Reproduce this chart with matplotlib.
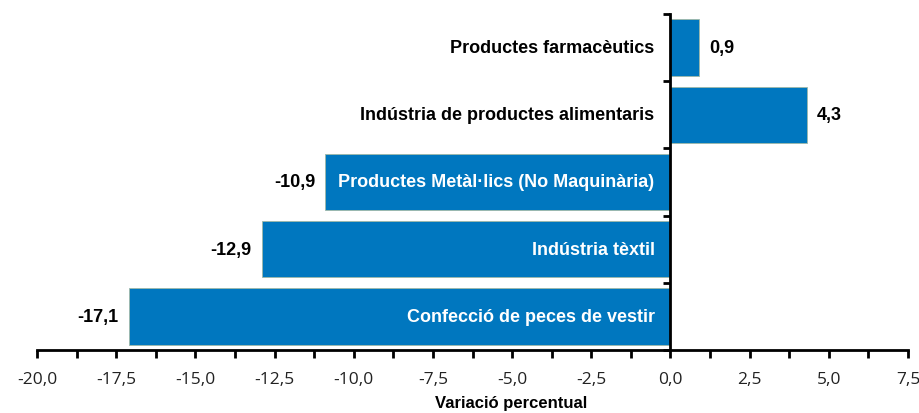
import matplotlib
matplotlib.use('Agg')
import matplotlib.pyplot as plt
from matplotlib.ticker import MultipleLocator, FuncFormatter

categories = [
    'Productes farmacèutics',
    'Indústria de productes alimentaris',
    'Productes Metàl·lics (No Maquinària)',
    'Indústria tèxtil',
    'Confecció de peces de vestir',
]
values = [0.9, 4.3, -10.9, -12.9, -17.1]

blue = '#0077BF'

fig = plt.figure(figsize=(9.2, 4.14), dpi=100)
ax = fig.add_axes([37/920, 1 - 351/414, (908 - 37)/920, (351 - 15)/414])

ypos = list(range(len(categories)))
ax.barh(ypos, values, height=0.84, color=blue, edgecolor='#9fb8a8', linewidth=0.6, zorder=2)
ax.set_ylim(len(categories) - 0.5, -0.5)
ax.set_xlim(-20, 7.5)

# spines
for s in ['top', 'right']:
    ax.spines[s].set_visible(False)
ax.spines['left'].set_position(('data', 0))
ax.spines['left'].set_linewidth(2)
ax.spines['bottom'].set_linewidth(2)
ax.spines['left'].set_zorder(3)

# y ticks at category boundaries
ax.set_yticks([])
ax.set_yticks([i - 0.5 for i in range(len(categories) + 1)], minor=True)
ax.tick_params(axis='y', which='minor', direction='out', length=5, width=2, labelleft=False)

# x ticks
ax.xaxis.set_major_locator(MultipleLocator(2.5))
ax.xaxis.set_minor_locator(MultipleLocator(1.25))
ax.xaxis.set_major_formatter(FuncFormatter(lambda v, p: f'{v:.1f}'.replace('.', ',')))
ax.tick_params(axis='x', which='both', direction='out', length=6, width=2, pad=9)
for lab in ax.get_xticklabels():
    lab.set_family(['Open Sans', 'DejaVu Sans'])
    lab.set_fontsize(12.5)
    lab.set_color('#222222')

fnt = ['Liberation Sans', 'DejaVu Sans']
fs = 13
off = 0.5
for y, cat, v in zip(ypos, categories, values):
    txt = f'{v:.1f}'.replace('.', ',')
    if v >= 0:
        ax.text(-off, y, cat, ha='right', va='center', fontsize=fs,
                fontweight='bold', family=fnt, color='black', zorder=4)
        ax.text(v + 0.32, y, txt, ha='left', va='center',
                fontsize=fs, fontweight='bold', family=fnt, color='black')
    else:
        ax.text(-off, y, cat, ha='right', va='center', fontsize=fs,
                fontweight='bold', family=fnt, color='white', zorder=4)
        ax.text(v - 0.32, y, txt, ha='right', va='center',
                fontsize=fs, fontweight='bold', family=fnt, color='black')

fig.text(511/920, 1 - 404/414, 'Variació percentual', ha='center', va='center',
         fontsize=12, fontweight='bold', family=fnt)

fig.savefig('out.png', dpi=100)
